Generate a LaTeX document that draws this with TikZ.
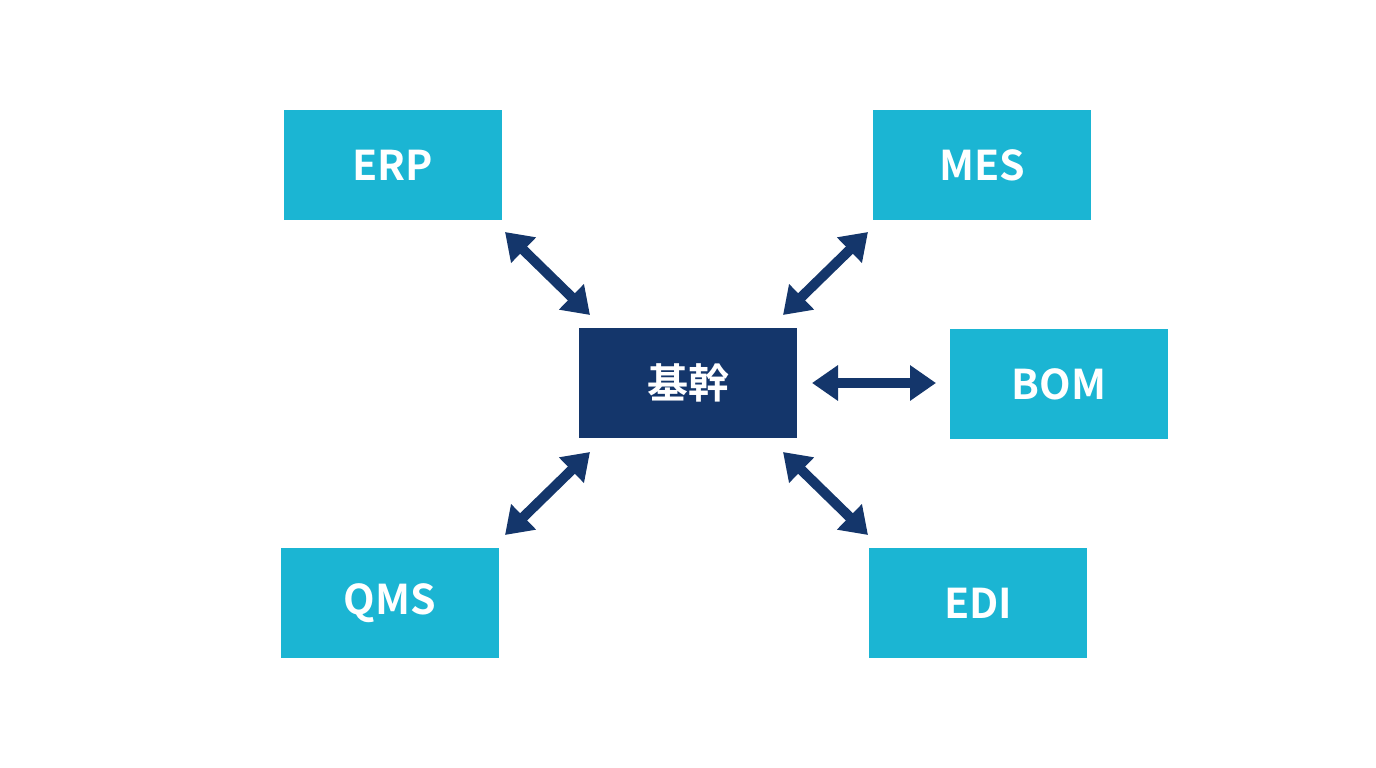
\documentclass[tikz,border=0pt]{standalone}
\usepackage{fontspec}
\setmainfont{Noto Sans CJK JP}[BoldFont={Noto Sans CJK JP Bold}]
\usetikzlibrary{arrows.meta}
\definecolor{cy}{HTML}{1BB5D3}
\definecolor{nv}{HTML}{14366B}
\begin{document}
\begin{tikzpicture}[x=1pt,y=-1pt,
 box/.style={fill=cy,minimum width=218pt,minimum height=110pt,inner sep=0,text=white,font=\fontsize{41}{48}\selectfont\bfseries},
 cbox/.style={box,fill=nv},
 arr/.style={draw=nv,line width=10pt,{Triangle[length=26pt,width=34pt]}-{Triangle[length=26pt,width=34pt]}}]
\useasboundingbox (0,0) rectangle (1376,768);
\node[box] (erp) at (393,165) {ERP};
\node[box] (mes) at (982,165) {MES};
\node[cbox] (c) at (688,383) {基幹};
\node[box] (bom) at (1059,384) {BOM};
\node[box] (qms) at (390,603) {QMS};
\node[box] (edi) at (978,603) {EDI};
\coordinate (a1) at (505,232); \coordinate (a2) at (590,315);
\coordinate (b1) at (868,232); \coordinate (b2) at (783,315);
\coordinate (c1) at (812,383); \coordinate (c2) at (936,383);
\coordinate (d1) at (590,452); \coordinate (d2) at (505,535);
\coordinate (e1) at (783,452); \coordinate (e2) at (868,535);
\draw[arr] (a1) -- (a2);
\draw[arr] (b1) -- (b2);
\draw[arr] (c1) -- (c2);
\draw[arr] (d1) -- (d2);
\draw[arr] (e1) -- (e2);
\end{tikzpicture}
\end{document}
